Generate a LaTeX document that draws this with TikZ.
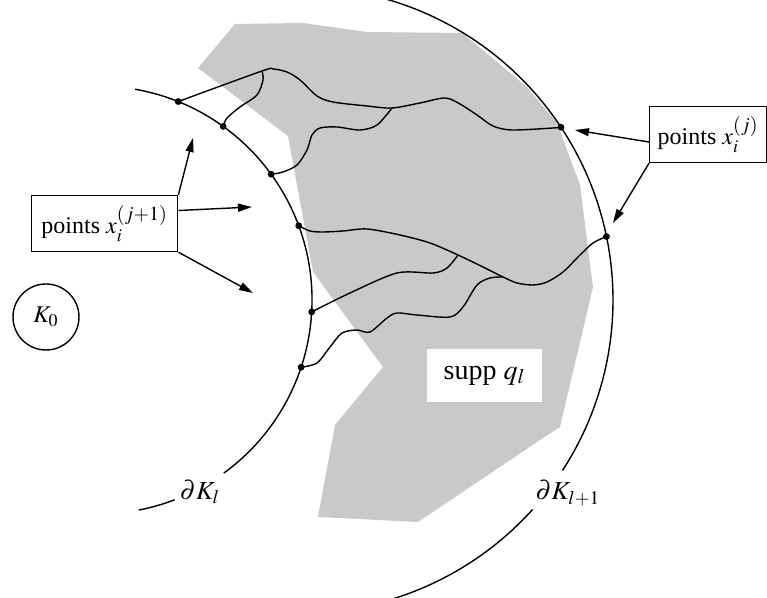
\documentclass[tikz,border=0pt]{standalone}
\usepackage{mathptmx}
\usepackage{fontspec}
\setmainfont{Liberation Serif}
\usetikzlibrary{arrows.meta,positioning,calc}
\definecolor{SuppGrey}{HTML}{C8C9CB}
\newcommand\bigsup[1]{\mbox{\fontsize{10}{10}\selectfont$#1$}}
\tikzset{>={Triangle[length=7pt,width=4pt]},every node/.style={font=\fontsize{12}{14}\selectfont},
 wig/.style={line width=0.7pt},ptbox/.style={draw,wig,fill=white,anchor=west,inner xsep=4pt,
 minimum height=28pt},dot/.style={radius=3.4}}
\begin{document}
\begin{tikzpicture}[x=0.5pt,y=0.5pt]
\clip (0,0) rectangle (767,-598);
\fill[white] (0,0) rectangle (767,-598);
\fill[SuppGrey] (198,-68)--(235,-24)--(303,-23)--(367,-32)--(462,-33)--(473,-42)--(527,-87)
 --(557,-123)--(580,-185)--(593,-287)--(560,-427)--(540,-440)--(418,-522)--(318,-517)
 --(335,-425)--(383,-367)--(313,-272)--(288,-136)--cycle;
\coordinate (ci) at (98,-300);
\coordinate (co) at (300,-300);
\draw[wig] (ci) ++(80:214) arc[start angle=80,end angle=-54,radius=214];
\draw[wig] (ci) ++(-69:214) arc[start angle=-69,end angle=-79,radius=214];
\draw[wig] (co) ++(74:313) arc[start angle=74,end angle=-33,radius=313];
\draw[wig] (co) ++(-42:313) arc[start angle=-42,end angle=-76,radius=313];
\foreach \n/\a in {pi1/68,pi2/54.2,pi3/36,pi4/20.3,pi5/-3.2,pi6/-18.3}
 {\coordinate (\n) at ($(ci)+(\a:214)$);}
\foreach \n/\a in {po1/33.5,po2/11.7}
 {\coordinate (\n) at ($(co)+(\a:313)$);}
\coordinate (j1) at (262,-71);
\coordinate (j2) at (392,-108);
\coordinate (j3) at (458,-255);
\coordinate (j4) at (503,-277);
\draw[wig] plot[smooth] coordinates {(pi1) (j1) (273,-69) (287,-72) (300,-80) (317,-96) (333,-102)
 (367,-106) (j2) (420,-103) (445,-98) (460,-104) (477,-115) (493,-126) (512,-130) (553,-128) (po1)};
\draw[wig] plot[smooth] coordinates {(pi2) (227,-118) (240,-107) (257,-95) (263,-80) (j1)};
\draw[wig] plot[smooth] coordinates {(pi3) (283,-172) (297,-165) (307,-150) (312,-135) (320,-128)
 (337,-127) (360,-130) (377,-125) (j2)};
\draw[wig] plot[smooth] coordinates {(pi4) (310,-231) (323,-232) (343,-231) (367,-229) (400,-235)
 (430,-243) (j3) (483,-267) (j4) (517,-283) (533,-285) (547,-282) (563,-272) (580,-255) (593,-243) (po2)};
\draw[wig] plot[smooth] coordinates {(pi5) (350,-293) (397,-273) (433,-273) (447,-268) (j3)};
\draw[wig] plot[smooth] coordinates {(pi6) (317,-363) (330,-347) (342,-333) (357,-330) (370,-332)
 (387,-318) (397,-313) (417,-315) (450,-317) (463,-307) (477,-285) (490,-278) (j4)};
\foreach \n in {pi1,pi2,pi3,pi4,pi5,pi6,po1,po2}
 {\fill (\n) circle[dot];}
\node[fill=white,minimum width=57.5pt,minimum height=26.5pt,font=\fontsize{14}{16}\selectfont] (supp)
 at (484.5,-375.5) {supp $q_l$};
\node[draw,wig,circle,minimum size=33pt,inner sep=0pt] (k0) at (46,-317) {$K_0$};
\node[font=\fontsize{13}{15}\selectfont] (bdl) at (200,-492) {$\partial K_l$};
\node[font=\fontsize{13}{15}\selectfont] (bdl1) at (568,-493) {$\partial K_{l+1}$};
\node[ptbox,minimum width=73pt] (ptsL) at (31,-223.5) {points $x_i^{\bigsup{(j{+}1)}}$};
\node[ptbox] (ptsR) at (649,-134.5) {points $x_i^{\bigsup{(j)}}$};
\coordinate (tL1) at (193,-138);
\coordinate (tL2) at (252,-207);
\coordinate (tL3) at (253,-293);
\coordinate (tR1) at (575,-130);
\coordinate (tR2) at (613,-223);
\draw[wig,->] (ptsL.north east) -- (tL1);
\draw[wig,->] (ptsL.10) -- (tL2);
\draw[wig,->] (ptsL.south east) -- (tL3);
\draw[wig,->] ([yshift=-3.75pt]ptsR.west) -- (tR1);
\draw[wig,->] (ptsR.south west) -- (tR2);
\end{tikzpicture}
\end{document}
